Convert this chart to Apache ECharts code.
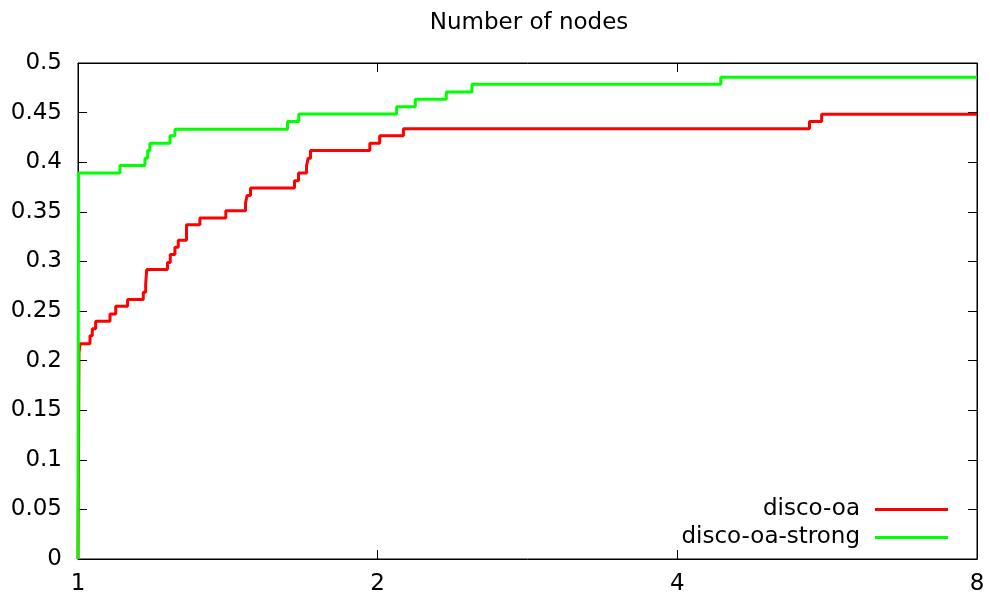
<!DOCTYPE html>
<html>
<head>
<meta charset="utf-8">
<script src="https://cdn.jsdelivr.net/npm/echarts@6/dist/echarts.min.js"></script>
<style>
  html, body { margin: 0; padding: 0; background: #fff; }
  #chart { width: 990px; height: 598px; }
</style>
</head>
<body>
<div id="chart"></div>
<script>
const xTicks = [1, 2, 4, 8]

const oaX = [1, 1.0023, 1.0046, 1.0281, 1.0336, 1.0417, 1.0768, 1.0911, 1.1215, 1.163, 1.1694, 1.1722,
  1.2299, 1.2379, 1.2513, 1.261, 1.2852, 1.3257, 1.4076, 1.4733, 1.4787, 1.4904, 1.65, 1.6654,
  1.6966, 1.7028, 1.7123, 1.9641, 2.0093, 2.1227, 5.43, 5.585, 8]
const oaY = [0, 0.208, 0.217, 0.225, 0.232, 0.2397, 0.247, 0.2548, 0.2616, 0.269, 0.2767, 0.2918,
  0.299, 0.307, 0.3142, 0.3212, 0.337, 0.3437, 0.3511, 0.3588, 0.3665, 0.374, 0.3813, 0.389,
  0.3964, 0.404, 0.4118, 0.419, 0.4266, 0.4336, 0.441, 0.4484, 0.4484]

const strongX = [1, 1.0012, 1.1019, 1.1675, 1.1748, 1.181, 1.2371, 1.2513, 1.6235, 1.6665,
  2.0897, 2.1817, 2.3441, 2.4875, 4.4231, 8]
const strongY = [0, 0.389, 0.3967, 0.404, 0.4118, 0.419, 0.4266, 0.4333, 0.441, 0.4487,
  0.456, 0.4635, 0.4708, 0.4786, 0.4856, 0.4856]

const pairs = (xs, ys) => xs.map((x, i) => [x, ys[i]])

const font = 'DejaVu Sans'
const tickStyle = { show: true, inside: true, length: 9, lineStyle: { color: '#000', width: 1 } }
const lineStyle = { color: '#000', width: 1 }

const xBase = {
  type: 'log',
  logBase: 2,
  min: 1,
  max: 8,
  splitLine: { show: false },
  minorTick: { show: false },
  axisLine: { show: true, onZero: false, lineStyle: lineStyle },
  axisTick: tickStyle
}
const yBase = {
  type: 'value',
  min: 0,
  max: 0.5,
  interval: 0.05,
  splitLine: { show: false },
  axisLine: { show: true, onZero: false, lineStyle: lineStyle },
  axisTick: tickStyle
}

const legendBase = {
  right: 37,
  itemWidth: 73,
  itemHeight: 20,
  align: 'right',
  icon: 'path://M0,8.5 L73,8.5 L73,11.5 L0,11.5 Z',
  textStyle: { fontFamily: font, fontSize: 23, color: '#000', padding: [0, 10, 0, 0] }
}

const option = {
  animation: false,
  title: {
    text: 'Number of nodes',
    left: 524,
    textAlign: 'center',
    top: 7,
    textStyle: { fontFamily: font, fontSize: 23, fontWeight: 'normal', color: '#000' }
  },
  grid: {
    left: 78, right: 13, top: 63, bottom: 39,
    show: true, borderColor: '#000', borderWidth: 1, backgroundColor: 'transparent'
  },
  legend: [
    Object.assign({}, legendBase, { top: 493, data: ['disco-oa'] }),
    Object.assign({}, legendBase, { top: 521, data: ['disco-oa-strong'] })
  ],
  xAxis: [
    Object.assign({}, xBase, {
      position: 'bottom',
      axisLabel: {
        fontFamily: font, fontSize: 23, color: '#000', margin: 14,
        customValues: xTicks,
        formatter: v => String(Math.round(v))
      },
      axisTick: Object.assign({}, tickStyle, { customValues: xTicks })
    }),
    Object.assign({}, xBase, {
      position: 'top',
      axisLabel: { show: false },
      axisTick: Object.assign({}, tickStyle, { customValues: xTicks })
    })
  ],
  yAxis: [
    Object.assign({}, yBase, {
      position: 'left',
      axisLabel: {
        fontFamily: font, fontSize: 23, color: '#000', margin: 16,
        formatter: v => String(+v.toFixed(2))
      }
    }),
    Object.assign({}, yBase, { position: 'right', axisLabel: { show: false } })
  ],
  series: [
    {
      name: 'disco-oa',
      type: 'line',
      step: 'end',
      symbol: 'none',
      color: '#ff0000',
      lineStyle: { color: '#ff0000', width: 3 },
      data: pairs(oaX, oaY)
    },
    {
      name: 'disco-oa-strong',
      type: 'line',
      step: 'end',
      symbol: 'none',
      color: '#00ff00',
      lineStyle: { color: '#00ff00', width: 3 },
      data: pairs(strongX, strongY)
    }
  ]
}

const myChart = echarts.init(document.getElementById('chart'))
option && myChart.setOption(option)
</script>
</body>
</html>
